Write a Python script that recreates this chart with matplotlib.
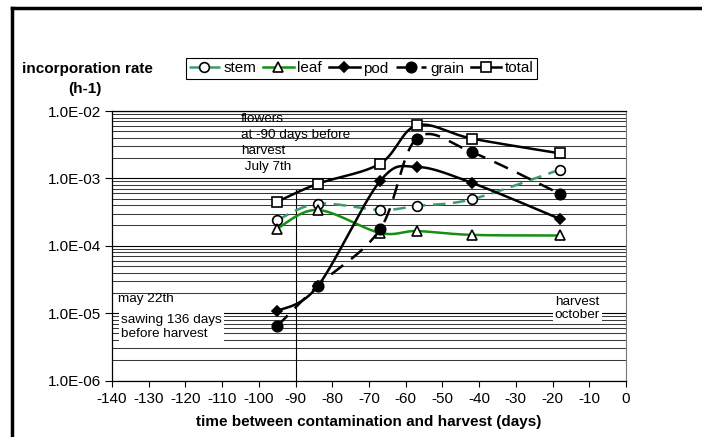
import numpy as np
import matplotlib
matplotlib.use('Agg')
import matplotlib.pyplot as plt
from matplotlib.ticker import FixedLocator, FuncFormatter, LogLocator, NullFormatter

plt.rcParams['font.family'] = ['Liberation Sans', 'DejaVu Sans']
plt.rcParams['axes.unicode_minus'] = False

# data (days before harvest, incorporation rate h-1)
days = [-95, -84, -67, -57, -42, -18]
stem = [2.4e-4, 4.2e-4, 3.4e-4, 3.9e-4, 4.9e-4, 1.35e-3]
leaf = [1.8e-4, 3.4e-4, 1.55e-4, 1.65e-4, 1.45e-4, 1.42e-4]
pod = [1.07e-5, 2.5e-5, 9.1e-4, 1.48e-3, 8.6e-4, 2.5e-4]
grain = [6.4e-6, 2.55e-5, 1.75e-4, 3.9e-3, 2.45e-3, 5.9e-4]
total = [4.5e-4, 8.3e-4, 1.65e-3, 6.1e-3, 3.9e-3, 2.35e-3]

xticks = list(range(-140, 1, 10))
yticks = [1e-6, 1e-5, 1e-4, 1e-3, 1e-2]

# pixel scales of the axes, used to smooth in screen space like the spreadsheet does
PX_DAY = 3.664
PX_DEC = 67.25


def smooth(xs, ys, n=40):
    sx = np.array(xs, float) * PX_DAY
    sy = np.log10(np.array(ys, float)) * PX_DEC
    pts = np.column_stack([sx, sy])
    ext = np.vstack([pts[0], pts, pts[-1]])
    out = []
    t = np.linspace(0, 1, n)[:, None]
    for i in range(len(pts) - 1):
        p0, p1, p2, p3 = ext[i], ext[i + 1], ext[i + 2], ext[i + 3]
        c1 = p1 + (p2 - p0) / 6.0
        c2 = p2 - (p3 - p1) / 6.0
        seg = ((1 - t) ** 3) * p1 + 3 * ((1 - t) ** 2) * t * c1 + 3 * (1 - t) * t ** 2 * c2 + t ** 3 * p2
        out.append(seg if i == 0 else seg[1:])
    out = np.vstack(out)
    return out[:, 0] / PX_DAY, 10 ** (out[:, 1] / PX_DEC)


fig = plt.figure(figsize=(7.02, 4.37), dpi=100)
ax = fig.add_axes([112 / 702, 1 - 380.5 / 437, (626 - 112) / 702, (380.5 - 111) / 437])

ax.set_yscale('log')
ax.set_xlim(-140, 0)
ax.set_ylim(1e-6, 1e-2)

fs = 11
afs = 9.7  # annotation text inside the plot

# gridlines
ax.yaxis.set_major_locator(FixedLocator(yticks))
ax.yaxis.set_minor_locator(LogLocator(base=10, subs=np.arange(2, 10)))
ax.yaxis.set_minor_formatter(NullFormatter())
ax.yaxis.set_major_formatter(FuncFormatter(lambda v, p: '%.1fE-%02d' % (1.0, -int(round(np.log10(v))))))
ax.grid(which='major', axis='y', color='black', lw=0.8)
ax.grid(which='minor', axis='y', color='#3a3a3a', lw=0.75)
ax.set_axisbelow(True)
ax.tick_params(axis='y', which='minor', length=0)
ax.tick_params(axis='y', which='major', length=5, direction='out', labelsize=fs, pad=3)
ax.set_xticks(xticks)
ax.tick_params(axis='x', length=4, direction='out', labelsize=fs, pad=4)
for s in ['left', 'bottom', 'top']:
    ax.spines[s].set_color('black')
    ax.spines[s].set_linewidth(0.9)
ax.spines['right'].set_color('#777777')

# vertical flowering line
ax.axvline(-90, ymin=0, ymax=0.707, color='black', lw=0.8, zorder=2)

series = [
    ('stem', stem, dict(color='#3f9a6c', ls=(0, (5, 3))), dict(marker='o', mfc='white', mec='black', ms=7)),
    ('leaf', leaf, dict(color='#149014', ls='-'), dict(marker='^', mfc='white', mec='black', ms=7)),
    ('pod', pod, dict(color='black', ls='-'), dict(marker='D', mfc='black', mec='black', ms=5)),
    ('grain', grain, dict(color='black', ls=(0, (6, 4))), dict(marker='o', mfc='black', mec='black', ms=7.5)),
    ('total', total, dict(color='black', ls='-'), dict(marker='s', mfc='white', mec='black', ms=7)),
]
handles = []
for name, vals, lkw, mkw in series:
    cx, cy = smooth(days, vals)
    ax.plot(cx, cy, lw=1.8, zorder=3, **lkw)
    ax.plot(days, vals, ls='none', mew=1.2, zorder=4, **mkw)
    h, = ax.plot([], [], lw=1.8, mew=1.2, label=name, **lkw, **mkw)
    handles.append(h)

# annotations
ax.text(-104.8, 9.2e-3, 'flowers\nat -90 days before\nharvest\n July 7th', fontsize=afs,
        va='top', ha='left', linespacing=1.42, zorder=5)
ax.text(-138.5, 2.0e-5, 'may 22th', fontsize=afs, va='top', ha='left', zorder=5)
ax.text(-137.5, 9.6e-6, 'sawing 136 days\nbefore harvest', fontsize=afs, va='top', ha='left',
        linespacing=1.15, zorder=5,
        bbox=dict(facecolor='white', edgecolor='none', pad=1.5))
ax.text(-19.4, 1.8e-5, 'harvest\noctober', fontsize=afs, va='top', ha='left',
        linespacing=1.15, zorder=5,
        bbox=dict(facecolor='white', edgecolor='none', pad=1.5))

ax.set_xlabel('time between contamination and harvest (days)', fontsize=fs,
              fontweight='bold', labelpad=7)
fig.text(87 / 702, 1 - 69 / 437, 'incorporation rate', fontsize=fs, fontweight='bold',
         ha='center', va='center')
fig.text(85 / 702, 1 - 89 / 437, '(h-1)', fontsize=fs, fontweight='bold',
         ha='center', va='center')

leg = fig.legend(handles=handles, loc='center', bbox_to_anchor=(361.5 / 702, 1 - 68.5 / 437),
                 ncol=5, fontsize=fs, frameon=True, fancybox=False, edgecolor='black',
                 framealpha=1, handlelength=2.0, handletextpad=0.25, columnspacing=0.45,
                 borderpad=0.2, borderaxespad=0)
leg.get_frame().set_linewidth(0.8)

# outer border (top and left only visible in the reference)
fig.add_artist(plt.Line2D([12 / 702, 1], [1 - 8 / 437, 1 - 8 / 437], color='black', lw=2.5,
                          transform=fig.transFigure))
fig.add_artist(plt.Line2D([12 / 702, 12 / 702], [0, 1 - 8 / 437], color='black', lw=2.5,
                          transform=fig.transFigure))

fig.savefig('out.png', dpi=100)
